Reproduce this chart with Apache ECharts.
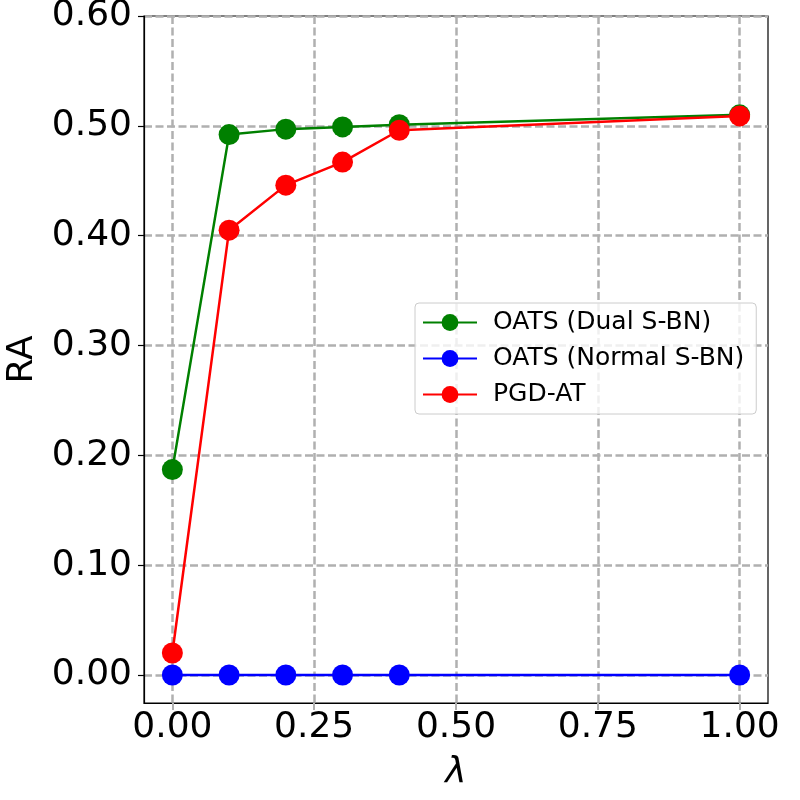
<!DOCTYPE html>
<html>
<head>
<meta charset="utf-8">
<script src="https://cdn.jsdelivr.net/npm/echarts@6/dist/echarts.min.js"></script>
<style>
  html, body { margin: 0; padding: 0; background: #fff; }
  #chart { width: 800px; height: 800px; }
</style>
</head>
<body>
<div id="chart"></div>
<script>
// lambda values on the x axis
var lambdas = [0.0, 0.1, 0.2, 0.3, 0.4, 1.0];

// RA for each method
var dualSBN = [0.187, 0.492, 0.497, 0.499, 0.501, 0.510];
var normalSBN = [0.0, 0.0, 0.0, 0.0, 0.0, 0.0];
var pgdAT = [0.020, 0.405, 0.446, 0.467, 0.496, 0.509];

var seriesNames = ["OATS (Dual S-BN)", "OATS (Normal S-BN)", "PGD-AT"];
var seriesColors = ["#008000", "#0000ff", "#ff0000"];

var xTicks = [0, 0.25, 0.5, 0.75, 1.0];
var yTicks = [0, 0.1, 0.2, 0.3, 0.4, 0.5, 0.6];

function pairs(ys) {
    var out = [];
    for (var i = 0; i < lambdas.length; i++)
        out.push([lambdas[i], ys[i]]);
    return out;
}

var font = "DejaVu Sans";
var gridLine = { show: true, lineStyle: { color: "#b0b0b0", width: 2.5, type: [8, 3.5] } };

var allData = [dualSBN, normalSBN, pgdAT];
var series = [];
for (var s = 0; s < allData.length; s++) {
    series.push({
        name: seriesNames[s],
        type: "line",
        data: pairs(allData[s]),
        symbol: "circle",
        symbolSize: 21,
        color: seriesColors[s],
        lineStyle: { width: 2.5, color: seriesColors[s] },
        itemStyle: { color: seriesColors[s] },
        z: 3 + s
    });
}

var chart = echarts.init(document.getElementById("chart"));
chart.setOption({
    animation: false,
    backgroundColor: "#fff",
    textStyle: { fontFamily: font },
    grid: {
        left: 144, right: 32, top: 16, bottom: 97,
        outerBoundsMode: "none",
        containLabel: false,
        show: true, borderColor: "#000", borderWidth: 1.2, backgroundColor: "transparent"
    },
    xAxis: {
        type: "value",
        min: -0.05,
        max: 1.05,
        name: "λ",
        nameLocation: "middle",
        nameGap: 52,
        nameTextStyle: { fontSize: 36, fontStyle: "italic", color: "#000", fontFamily: font },
        axisLine: { show: true, onZero: false, lineStyle: { color: "#000", width: 1.2 } },
        axisTick: { show: true, inside: false, length: 7, customValues: xTicks, lineStyle: { color: "#b0b0b0", width: 2 } },
        axisLabel: {
            customValues: xTicks, fontSize: 36, color: "#000", margin: 7,
            formatter: function (v) { return v.toFixed(2); }
        },
        splitLine: gridLine
    },
    yAxis: {
        type: "value",
        min: -0.0255,
        max: 0.6,
        name: "RA",
        nameLocation: "middle",
        nameGap: 101,
        nameTextStyle: { fontSize: 36, color: "#000", fontFamily: font },
        axisLine: { show: true, onZero: false, lineStyle: { color: "#000", width: 1.2 } },
        axisTick: { show: true, inside: false, length: 6, customValues: yTicks, lineStyle: { color: "#000", width: 1.2 } },
        axisLabel: {
            customValues: yTicks, fontSize: 36, color: "#000", margin: 12,
            formatter: function (v) { return v.toFixed(2); }
        },
        splitLine: gridLine
    },
    legend: {
        data: seriesNames,
        orient: "vertical",
        left: 415,
        top: 303,
        padding: [7, 12, 7, 7],
        itemGap: 11,
        itemWidth: 54,
        itemHeight: 21,
        backgroundColor: "rgba(255,255,255,0.8)",
        borderColor: "#cccccc",
        borderWidth: 1,
        borderRadius: 4,
        textStyle: { fontSize: 25, color: "#000", fontFamily: font, padding: [0, 0, 0, 11] }
    },
    series: series
});
</script>
</body>
</html>
